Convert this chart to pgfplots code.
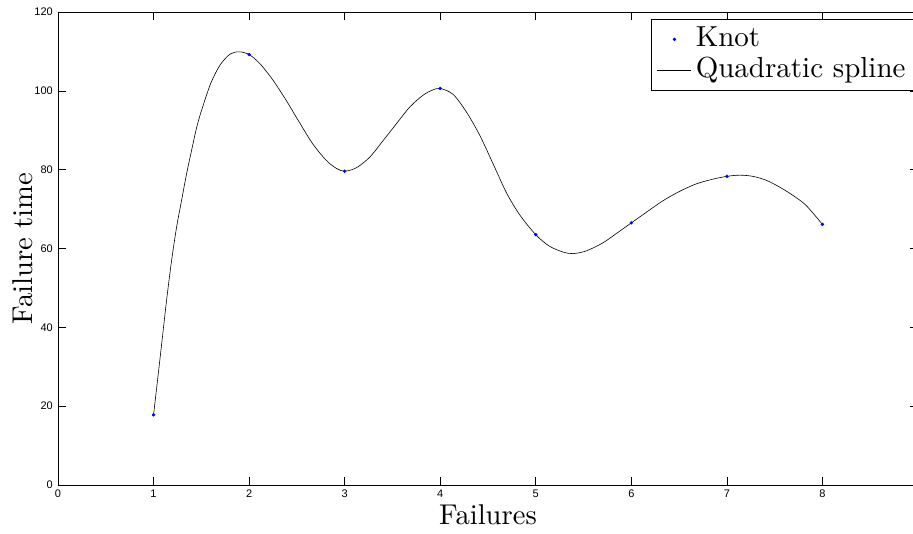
\documentclass[border=0pt]{standalone}
\usepackage{fontspec}
\usepackage{pgfplots}
\pgfplotsset{compat=1.18}
\newfontfamily\ticksfont{Liberation Sans}
\newfontfamily\cmten{lmroman10-regular}[Extension=.otf]
\pgfplotsset{
  knotimg/.style={legend image code/.code={\path[draw=none] (0pt,0pt) -- (34pt,0pt); \draw[##1] plot coordinates {(17pt,0pt)};}},
  lineimg/.style={legend image code/.code={\draw[##1] (0pt,0pt) -- (34pt,0pt);}},
}
\begin{document}
\begin{tikzpicture}
\begin{axis}[
  scale only axis, width=860pt, height=473pt,
  xmin=0, xmax=9, ymin=0, ymax=120,
  xtick={0,...,8}, ytick={0,20,...,120},
  tick align=inside, major tick length=8pt,
  tick style={black, line width=0.6pt},
  axis line style={black, line width=0.7pt},
  /pgf/number format/assume math mode=true,
  ticklabel style={font=\ticksfont\fontsize{11}{13}\selectfont, inner sep=0pt},
  xticklabel style={yshift=-5pt},
  yticklabel style={xshift=-5pt},
  xlabel={Failures}, ylabel={Failure time},
  label style={font=\cmten\fontsize{28.6}{34}\selectfont},
  xlabel style={at={(rel axis cs:0.5,0)}, anchor=base, yshift=-40pt},
  ylabel style={at={([xshift=-25pt]rel axis cs:0,0.5)}, anchor=base},
  legend style={at={(rel axis cs:0.6895,0.985)}, anchor=north west, draw=black, fill=white,
    inner xsep=6pt, inner ysep=4.5pt, font=\cmten\fontsize{29}{34}\selectfont,
    nodes={inner ysep=2pt, inner xsep=4pt, text height=21pt, text depth=6pt}, row sep=0pt},
  legend cell align=left,
]
\coordinate (SW) at (rel axis cs:0,0);
\coordinate (NE) at (rel axis cs:1,1);
\addplot[only marks, mark=*, mark size=1.5pt, color=blue, knotimg]
  coordinates {(1,17.8) (2,109.2) (3,79.6) (4,100.6) (5,63.5) (6,66.5) (7,78.3) (8,66.1)};
\addlegendentry{Knot}
\addplot[black, line width=0.6pt, smooth, tension=0.5, lineimg]
  coordinates {
  (1.0,17.8) (1.045,27.3) (1.09,36.9) (1.136,46.8) (1.189,57.0) (1.241,65.4) (1.293,72.2)
  (1.346,79.0) (1.398,84.9) (1.450,90.6) (1.503,95.1) (1.597,101.8) (1.695,106.5)
  (1.80,109.3) (1.897,109.9) (2.0,109.2) (2.113,106.9) (2.25,102.7) (2.39,97.5)
  (2.531,91.8) (2.67,86.4) (2.81,82.3) (2.915,80.3) (3.0,79.6) (3.124,80.5) (3.264,83.2)
  (3.403,87.4) (3.543,91.7) (3.682,95.9) (3.821,98.9) (3.92,100.2) (4.0,100.6)
  (4.135,99.1) (4.275,94.6) (4.414,88.7) (4.553,81.5) (4.694,74.1) (4.833,68.5)
  (5.0,63.5) (5.142,60.6) (5.285,59.1) (5.39,58.7) (5.53,59.4) (5.7,61.4) (5.844,63.8)
  (6.0,66.5) (6.158,69.2) (6.33,72.1) (6.506,74.5) (6.68,76.4) (6.855,77.6) (7.0,78.3)
  (7.134,78.6) (7.273,78.3) (7.413,77.3) (7.55,75.6) (7.69,73.5) (7.83,70.9) (8.0,66.1)};
\addlegendentry{Quadratic spline\hspace{10pt}}
\end{axis}
\pgfresetboundingbox
\path[use as bounding box] ([shift={(-58pt,-49pt)}]SW) rectangle ([shift={(-5pt,12pt)}]NE);
\end{tikzpicture}
\end{document}
